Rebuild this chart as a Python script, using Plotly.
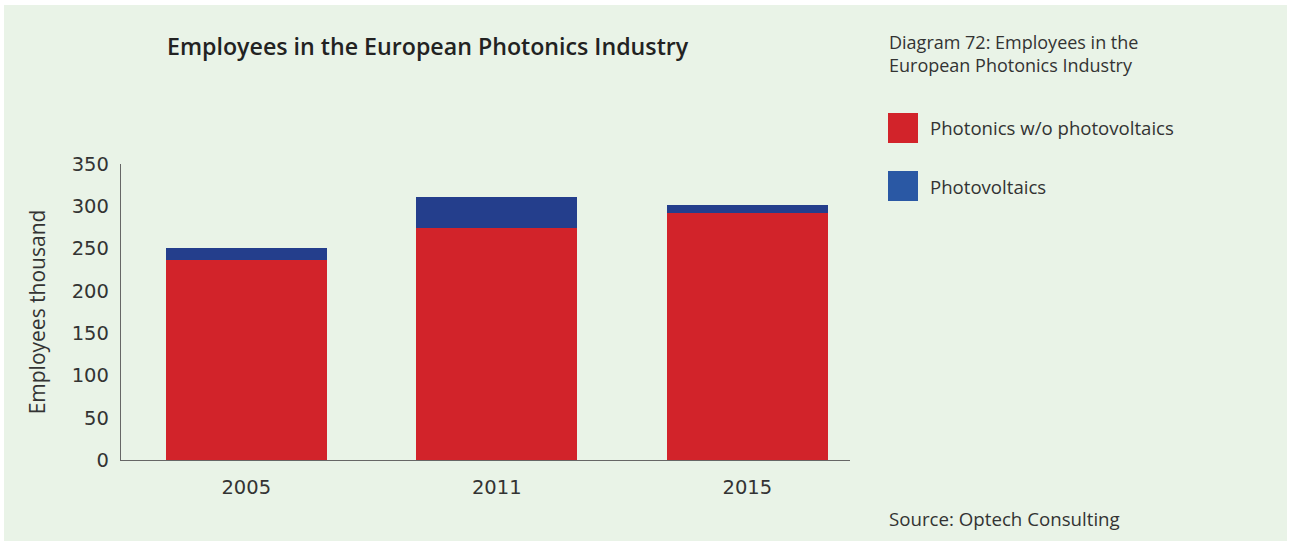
import plotly.graph_objects as go

# ---- data ----
years = ["2005", "2011", "2015"]
photonics_wo_pv = [236, 274, 292]
photovoltaics = [15, 37, 10]
series_names = ["Photonics w/o photovoltaics", "Photovoltaics"]
y_ticks = [0, 50, 100, 150, 200, 250, 300, 350]

# ---- style ----
RED = "#D2232A"
BLUE_BAR = "#243E8C"
BLUE_LEG = "#2A58A4"
BG = "#E9F3E7"
TXT = "#333333"
FONT = "Open Sans"
TICKFONT = "DejaVu Sans"

W, H = 1290, 545
L, R, T, B = 121, 440, 164, 85
PW, PH = W - L - R, H - T - B


def px(x):
    return (x - L) / PW


def py(y):
    return (H - B - y) / PH


fig = go.Figure()
fig.add_trace(go.Bar(x=years, y=photonics_wo_pv, name=series_names[0],
                     marker=dict(color=RED, line=dict(width=0)), width=0.643))
fig.add_trace(go.Bar(x=years, y=photovoltaics, name=series_names[1],
                     marker=dict(color=BLUE_BAR, line=dict(width=0)), width=0.643))

shapes = [
    dict(type="rect", xref="paper", yref="paper", layer="below",
         x0=px(4), x1=px(1287), y0=py(541), y1=py(5),
         fillcolor=BG, line=dict(width=0)),
    dict(type="rect", xref="paper", yref="paper",
         x0=px(888), x1=px(918), y0=py(143), y1=py(113),
         fillcolor=RED, line=dict(width=0)),
    dict(type="rect", xref="paper", yref="paper",
         x0=px(888), x1=px(918), y0=py(201), y1=py(171),
         fillcolor=BLUE_LEG, line=dict(width=0)),
]

annotations = [
    dict(text="Employees in the European Photonics Industry", x=px(165), y=py(46),
         xref="paper", yref="paper", xanchor="left", yanchor="middle", showarrow=False,
         font=dict(family=FONT, size=23.2, color="#222222", weight=600)),
    dict(text="Diagram 72: Employees in the<br>European Photonics Industry", x=px(887), y=py(54),
         xref="paper", yref="paper", xanchor="left", yanchor="middle", showarrow=False,
         align="left", font=dict(family=FONT, size=18, color=TXT)),
    dict(text=series_names[0], x=px(928), y=py(128),
         xref="paper", yref="paper", xanchor="left", yanchor="middle", showarrow=False,
         font=dict(family=FONT, size=18.6, color=TXT)),
    dict(text=series_names[1], x=px(928), y=py(186),
         xref="paper", yref="paper", xanchor="left", yanchor="middle", showarrow=False,
         font=dict(family=FONT, size=18.6, color=TXT)),
    dict(text="Source: Optech Consulting", x=px(887), y=py(518),
         xref="paper", yref="paper", xanchor="left", yanchor="middle", showarrow=False,
         font=dict(family=FONT, size=18.7, color=TXT)),
]

fig.update_layout(
    width=W, height=H,
    margin=dict(l=L, r=R, t=T, b=B, autoexpand=False),
    barmode="stack",
    showlegend=False,
    paper_bgcolor="white",
    plot_bgcolor=BG,
    font=dict(family=FONT, color=TXT),
    shapes=shapes,
    annotations=annotations,
    xaxis=dict(type="category", range=[-0.5, 2.41], showgrid=False, showline=True,
               linecolor="#666666", linewidth=1.3, ticks="", ticklabelstandoff=9,
               tickfont=dict(family=TICKFONT, size=19.5, color=TXT), fixedrange=True),
    yaxis=dict(range=[0, 350], tickvals=y_ticks, showgrid=False, zeroline=False,
               showline=True, linecolor="#666666", linewidth=1.3, ticks="",
               ticklabelstandoff=7, tickfont=dict(family=TICKFONT, size=19.5, color=TXT),
               fixedrange=True,
               title=dict(text="Employees thousand", standoff=20,
                          font=dict(family=FONT, size=21, color=TXT))),
)

fig.write_html("out.html", config={"displayModeBar": False},
               post_script="document.body.style.margin='0px';document.body.style.padding='0px';")
